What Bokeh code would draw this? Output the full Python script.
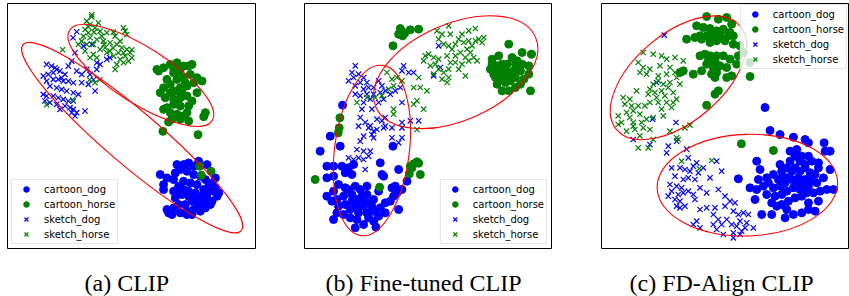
import math
from bokeh.plotting import figure
from bokeh.models import Range1d, Label
from bokeh.layouts import row, column
from bokeh.embed import file_html
from bokeh.resources import INLINE

SERIES = ["cartoon_dog", "cartoon_horse", "sketch_dog", "sketch_horse"]
MARKER = {"cartoon_dog": "circle", "cartoon_horse": "circle", "sketch_dog": "x", "sketch_horse": "x"}
COLOR = {"cartoon_dog": "#0000ff", "cartoon_horse": "#008000", "sketch_dog": "#0000ff", "sketch_horse": "#008000"}
CAPTIONS = ["(a) CLIP", "(b) Fine-tuned CLIP", "(c) FD-Align CLIP"]

# ---------------- panel (a) CLIP : embedding coordinates ----------------
A_CARTOON_DOG = [(460,516),(480,526),(500,531),(510,486),(545,481),(575,476),(600,486),(625,526),(615,541),(605,551),
    (595,531),(580,521),(560,516),(540,506),(520,501),(505,511),(470,561),(500,566),(515,551),(530,536),(550,541),
    (570,546),(590,561),(620,566),(630,581),(615,596),(600,586),(585,581),(565,571),(545,566),(525,576),(505,586),
    (515,606),(535,606),(555,596),(575,606),(595,616),(580,626),(560,621),(540,626),(520,631),(500,616),(480,621),
    (485,631),(495,636),(540,636),(555,636),(580,616),(610,606),(530,486),(560,491),(530,561),(545,581),(565,586),
    (510,571),(590,596),(600,571),(470,546),(625,556),(635,571)]
A_CARTOON_HORSE = [(455,205),(470,195),(490,185),(510,180),(530,190),(545,190),(520,200),(500,210),(480,230),(470,255),
    (490,245),(510,230),(530,225),(550,215),(570,225),(585,235),(560,240),(540,250),(520,255),(505,265),(490,270),
    (460,270),(475,285),(500,290),(520,285),(540,280),(555,295),(570,270),(545,310),(520,310),(500,305),(480,315),
    (470,320),(490,330),(510,335),(530,340),(545,355),(520,350),(495,350),(595,330),(590,342),(500,195),(515,215),
    (535,240),(525,270),(510,300),(540,330),(485,358),(468,386),(573,396),(578,491),(612,506),(583,518),(450,200),(555,185)]
A_SKETCH_DOG = [(120,185),(135,190),(150,200),(110,220),(125,215),(140,210),(160,205),(175,215),(185,190),(195,175),
    (205,150),(210,205),(225,215),(240,200),(250,215),(270,200),(265,265),(245,245),(225,240),(200,240),(185,235),
    (170,235),(155,230),(140,230),(120,235),(130,250),(150,255),(165,260),(180,265),(200,270),(215,275),(110,275),
    (120,280),(140,280),(155,285),(170,290),(185,295),(200,295),(175,310),(190,315),(200,320),(210,330),(195,330),
    (160,320),(150,305),(130,300),(115,295),(235,325),(210,87),(199,105),(309,165),(270,180),(280,185),(300,170),
    (260,231),(255,125),(230,130),(205,340),(145,195),(165,225)]
A_SKETCH_HORSE = [(255,42),(240,55),(250,65),(235,80),(245,90),(265,75),(280,85),(300,90),(320,88),(325,100),(350,75),
    (360,95),(355,85),(230,100),(250,105),(270,110),(290,115),(310,120),(330,125),(345,135),(360,140),(370,150),
    (375,165),(355,160),(340,170),(320,160),(330,185),(325,200),(350,180),(365,175),(310,145),(295,135),(280,140),
    (260,155),(270,165),(250,165),(235,145),(215,125),(225,115),(168,141),(249,231),(279,231),(198,291),(120,306),
    (255,36),(375,141),(300,150),(285,100),(340,115),(260,125),(240,125),(265,240),(245,72),(262,88),(318,135),
    (335,150),(350,150),(292,125),(275,60)]
# ellipses: centre x, centre y, width, height, angle (deg, counter-clockwise)
A_ELLIPSES = [(402,218,505,168,-32.4),(376,405,858,161,-40.4)]

# ---------------- panel (b) Fine-tuned CLIP ----------------
B_CARTOON_DOG = [(85,401),(55,446),(115,431),(75,491),(95,491),(120,491),(140,496),(155,486),(130,511),(150,516),
    (75,526),(95,521),(110,546),(95,566),(75,581),(90,596),(105,591),(125,581),(140,561),(160,551),(175,561),
    (195,551),(180,581),(165,591),(150,576),(130,606),(145,621),(165,616),(185,611),(200,601),(215,591),(195,576),
    (170,631),(195,631),(215,626),(235,616),(250,601),(230,566),(240,516),(235,481),(245,521),(280,551),(270,556),
    (290,501),(285,571),(300,561),(275,581),(290,621),(265,596),(250,631),(215,656),(185,666),(160,676),(145,646),
    (125,636),(105,631),(95,651),(222,674),(165,651),(200,646),(315,536),(160,601),(130,556),(110,611),(180,596),
    (210,611),(230,641),(150,596),(122,308),(273,431)]
B_CARTOON_HORSE = [(295,78),(300,88),(290,95),(302,100),(308,92),(325,82),(350,80),(273,130),
    (620,125),(570,170),(590,160),(585,190),(565,200),(575,215),(590,205),(600,210),(610,200),(620,215),(635,205),
    (630,165),(645,175),(660,150),(688,155),(660,185),(680,190),(655,205),(640,225),(625,235),(610,240),(595,230),
    (585,245),(600,265),(620,265),(640,255),(655,245),(665,230),(680,215),(685,265),(640,185),(615,185),(600,185),
    (580,225),(610,225),(570,185),(114,346),(112,376),(109,391),(40,531),(233,554),(325,491),(335,484),(345,478),
    (350,482),(330,496),(322,514),(355,516)]
B_SKETCH_DOG = [(160,190),(150,210),(140,235),(155,225),(170,215),(185,225),(195,240),(175,240),(160,250),(185,260),
    (200,255),(215,255),(230,235),(240,250),(250,265),(235,270),(215,275),(195,275),(175,280),(160,275),(185,300),
    (205,290),(230,300),(245,290),(265,275),(280,265),(295,255),(300,300),(250,345),(240,355),(225,350),(210,320),
    (180,320),(175,345),(190,360),(205,370),(300,360),(325,355),(350,355),(305,190),(300,205),(320,210),(335,210),
    (410,130),(395,220),(415,195),(170,371),(200,376),(225,381),(245,376),(270,376),(300,376),(210,396),(185,401),
    (215,406),(270,406),(300,406),(290,421),(175,416),(165,441),(185,446),(205,446),(140,466),(155,471),(170,466),
    (185,471),(200,461),(190,501),(215,386),(250,371)]
B_SKETCH_HORSE = [(405,85),(420,95),(440,70),(445,95),(470,110),(480,95),(500,85),(520,78),(485,120),(500,115),
    (510,130),(520,115),(530,110),(540,120),(545,105),(505,150),(515,165),(525,175),(500,175),(490,165),(475,150),
    (460,160),(450,140),(440,130),(425,125),(445,180),(460,180),(470,200),(480,185),(490,220),(440,200),(425,210),
    (410,200),(400,185),(410,170),(395,165),(380,155),(370,160),(365,175),(385,190),(420,230),(435,240),(440,225),
    (395,215),(350,225),(335,255),(355,255),(375,265),(345,295),(335,305),(365,320),(255,210),(270,230),(285,225),
    (275,250),(260,260),(240,280),(220,285),(195,285),(165,300),(275,320),(275,335),(300,235),(345,381),(410,110),
    (460,125),(495,140),(435,160)]
B_ELLIPSES = [(461,209,522,290,23.7),(210,444,224,515,-7.2)]

# ---------------- panel (c) FD-Align CLIP ----------------
C_CARTOON_DOG = [(495,315),(510,384),(540,396),(580,404),(615,411),(625,421),(672,421),(675,446),(690,446),(570,446),
    (590,441),(585,461),(605,461),(625,461),(635,476),(655,481),(655,496),(690,501),(645,516),(630,511),(615,496),
    (600,506),(585,496),(575,506),(560,496),(545,506),(540,486),(520,516),(500,526),(475,531),(480,501),(470,476),
    (450,556),(470,561),(490,551),(500,576),(520,556),(540,551),(555,541),(575,531),(595,526),(615,531),(630,536),
    (650,541),(670,526),(680,561),(660,566),(640,571),(620,571),(600,561),(580,556),(560,566),(545,576),(525,581),
    (515,601),(530,611),(545,606),(565,596),(585,586),(605,581),(625,601),(655,596),(465,591),(485,636),(515,636),
    (555,646),(580,636),(605,631),(625,621),(645,626),(415,529),(610,546),(590,541),(625,551),(560,526),(545,526),
    (600,476),(615,486),(570,476),(535,531),(505,541),(560,621),(700,561)]
C_CARTOON_HORSE = [(320,42),(355,50),(380,45),(395,65),(290,70),(310,75),(330,78),(350,85),(370,80),(390,90),(400,100),
    (385,100),(360,100),(340,100),(320,100),(300,100),(285,105),(305,110),(260,110),(330,120),(350,115),(375,115),
    (400,125),(420,130),(430,150),(415,160),(410,185),(390,170),(370,160),(350,160),(330,160),(315,155),(300,160),
    (325,175),(345,175),(320,185),(340,195),(360,190),(380,195),(395,220),(380,225),(350,210),(335,215),(345,225),
    (305,205),(280,215),(240,210),(250,205),(355,265),(345,275),(320,308),(450,222),(450,180),(424,424),(520,444)]
C_SKETCH_DOG = [(193,98),(170,240),(158,350),(228,360),(100,411),(150,426),(205,431),(230,416),(265,466),(290,481),
    (310,496),(330,526),(350,476),(365,506),(215,496),(240,496),(255,501),(270,506),(280,491),(295,511),(225,521),
    (250,531),(265,526),(285,531),(210,546),(230,551),(245,556),(215,566),(235,576),(250,571),(265,566),(225,591),
    (240,596),(255,611),(230,611),(280,576),(285,591),(300,556),(320,571),(355,561),(375,581),(390,596),(405,601),
    (375,611),(345,616),(320,616),(300,621),(290,656),(280,666),(300,676),(340,636),(355,651),(340,666),(365,666),
    (350,681),(370,696),(395,666),(380,651),(400,626),(415,636),(430,631),(445,636),(420,656),(440,661),(425,686),
    (410,671),(400,691),(420,696),(435,676),(400,706),(460,676),(240,616),(205,581),(260,440),(200,451)]
C_SKETCH_HORSE = [(130,150),(160,155),(185,160),(200,170),(225,165),(250,175),(115,180),(130,195),(150,200),(120,210),
    (140,215),(180,190),(210,195),(175,220),(200,215),(225,210),(245,210),(175,235),(190,245),(210,240),(230,225),
    (240,245),(160,245),(150,260),(165,270),(185,265),(205,255),(220,270),(195,280),(170,285),(145,275),(230,290),
    (220,300),(200,300),(175,300),(110,265),(90,290),(70,285),(75,305),(95,310),(80,330),(100,325),(115,310),
    (120,335),(135,310),(150,300),(185,320),(215,315),(55,340),(65,360),(90,345),(100,360),(125,360),(140,350),
    (160,345),(190,340),(270,368),(55,366),(80,386),(105,381),(100,371),(130,376),(150,381),(145,436),(115,436),
    (210,386),(230,406),(255,376),(235,411),(245,476),(298,498),(335,474),(160,411),(120,400)]
C_ELLIPSES = [(235,226,483,264,40.0),(442,548,541,305,2.0)]

PANELS = [
    dict(pts={"cartoon_dog": A_CARTOON_DOG, "cartoon_horse": A_CARTOON_HORSE, "sketch_dog": A_SKETCH_DOG, "sketch_horse": A_SKETCH_HORSE},
         ell=A_ELLIPSES, xr=(3, 745), yr=(738, 2), loc="bottom_left", lmargin=4, mbl=7, fw=248, mbr=24, cap_x=84),
    dict(pts={"cartoon_dog": B_CARTOON_DOG, "cartoon_horse": B_CARTOON_HORSE, "sketch_dog": B_SKETCH_DOG, "sketch_horse": B_SKETCH_HORSE},
         ell=B_ELLIPSES, xr=(8, 748), yr=(738, 3), loc="bottom_right", lmargin=4, mbl=25, fw=247, mbr=25, cap_x=46),
    dict(pts={"cartoon_dog": C_CARTOON_DOG, "cartoon_horse": C_CARTOON_HORSE, "sketch_dog": C_SKETCH_DOG, "sketch_horse": C_SKETCH_HORSE},
         ell=C_ELLIPSES, xr=(5, 745), yr=(738, 3), loc="top_right", lmargin=1, mbl=25, fw=247, mbr=1, cap_x=53),
]

FH = 245
figs, caps = [], []
for cfg, caption in zip(PANELS, CAPTIONS):
    w = cfg["mbl"] + cfg["fw"] + cfg["mbr"]
    p = figure(width=w, height=252, frame_width=cfg["fw"], frame_height=FH,
               x_range=Range1d(*cfg["xr"]), y_range=Range1d(*cfg["yr"]),
               x_axis_location=None, y_axis_location=None,
               output_backend="svg", toolbar_location=None,
               min_border_left=cfg["mbl"], min_border_right=cfg["mbr"],
               min_border_top=3, min_border_bottom=4,
               background_fill_color="white", border_fill_color="white")
    p.grid.visible = False
    p.outline_line_color = "black"
    p.outline_line_width = 1
    for name in SERIES:
        xs = [q[0] for q in cfg["pts"][name]]
        ys = [q[1] for q in cfg["pts"][name]]
        if MARKER[name] == "circle":
            p.scatter(xs, ys, marker="circle", size=8, color=COLOR[name], legend_label=name)
        else:
            p.scatter(xs, ys, marker="x", size=7.5, line_color=COLOR[name], line_width=1.2, legend_label=name)
    ex = [e[0] for e in cfg["ell"]]
    ey = [e[1] for e in cfg["ell"]]
    ew = [e[2] for e in cfg["ell"]]
    eh = [e[3] for e in cfg["ell"]]
    ea = [math.radians(e[4]) for e in cfg["ell"]]
    p.ellipse(x=ex, y=ey, width=ew, height=eh, angle=ea, fill_color=None, line_color="#ff0000", line_width=1.1)

    leg = p.legend[0]
    leg.location = cfg["loc"]
    leg.label_text_font = "DejaVu Sans"
    leg.label_text_font_size = "10px"
    leg.label_text_color = "#000000"
    leg.glyph_height = 14
    leg.glyph_width = 24
    leg.label_height = 14
    leg.spacing = 1
    leg.padding = 2
    leg.margin = cfg["lmargin"]
    leg.label_standoff = 6
    leg.border_line_color = "#cccccc"
    leg.border_line_width = 1
    leg.background_fill_color = "white"
    leg.background_fill_alpha = 0.8
    figs.append(p)

    c = figure(width=w, height=44, x_range=Range1d(0, 1), y_range=Range1d(0, 1),
               x_axis_location=None, y_axis_location=None,
               output_backend="svg", toolbar_location=None,
               min_border_left=0, min_border_right=0, min_border_top=0, min_border_bottom=0,
               background_fill_color="white", border_fill_color="white")
    c.grid.visible = False
    c.outline_line_color = None
    c.add_layout(Label(x=cfg["cap_x"], y=14, x_units="screen", y_units="screen", text=caption,
                       text_font="Liberation Serif", text_font_size="24px", text_color="black",
                       text_baseline="alphabetic", text_align="left"))
    caps.append(c)

layout = column(row(*figs), row(*caps))
open("out.html", "w").write(file_html(layout, INLINE, "t-SNE"))
